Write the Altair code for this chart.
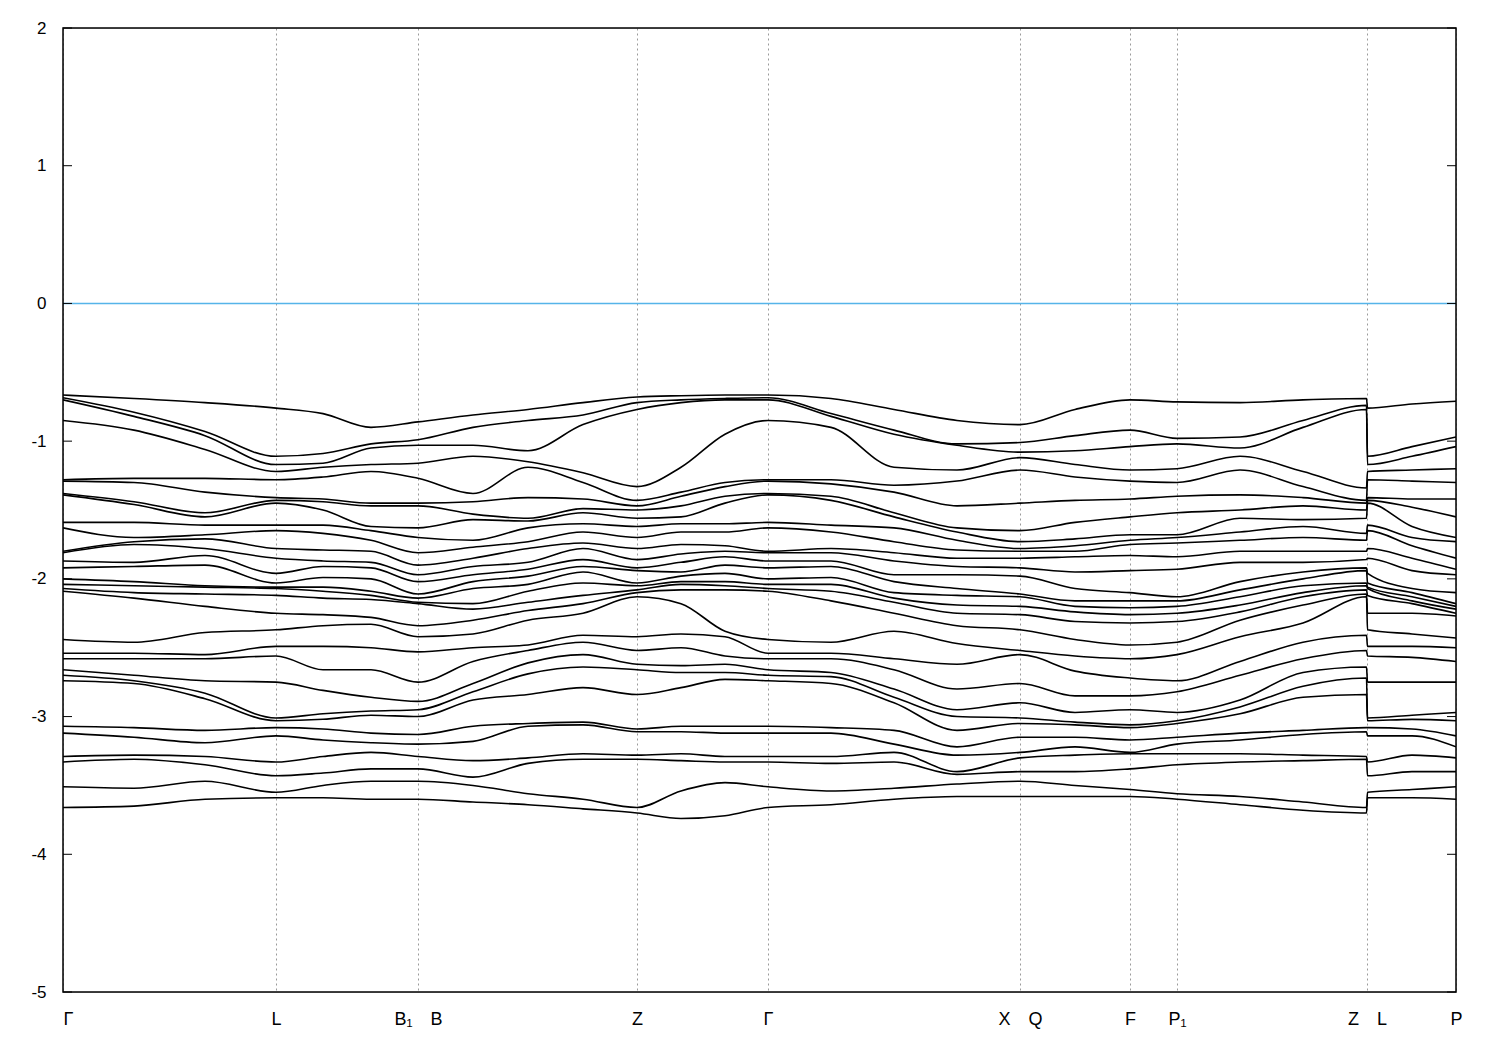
import altair as alt
import pandas as pd

# High-symmetry points (path coordinate) and their labels
tick_pos = [0, 213, 355, 574, 705, 957, 1067, 1114, 1304, 1393]
tick_labels = ["Γ", "L", "B₁\u2003B", "Z", "Γ", "X\u2003Q", "F", "P₁", "Z\u2003L", "P"]
y_ticks = [-5, -4, -3, -2, -1, 0, 1, 2]
fermi = [0.0]

# k-path sample positions
k_path = [0, 71, 142, 213, 260, 308, 355, 410, 465, 520, 574, 618, 662, 705,
          768, 831, 894, 957, 1012, 1067, 1114, 1177, 1240, 1303.5, 1304.5, 1349, 1393]

# Band energies (eV) read at each k sample, top to bottom
e00 = [-0.665,-0.685,-0.70,-0.85,-1.28,-1.29,-1.38,-1.39,-1.59,-1.63,-1.80,-1.81,-1.87,-1.92,-2.00,-2.04,-2.07,-2.09,-2.44,-2.54,-2.58,-2.66,-2.70,-2.74,-3.07,-3.12,-3.29,-3.33,-3.51,-3.66]
e01 = [-0.69,-0.79,-0.82,-0.92,-1.27,-1.30,-1.44,-1.46,-1.59,-1.70,-1.73,-1.75,-1.88,-1.91,-2.02,-2.05,-2.10,-2.14,-2.46,-2.54,-2.58,-2.70,-2.74,-2.76,-3.08,-3.15,-3.28,-3.31,-3.52,-3.65]
e02 = [-0.72,-0.93,-0.96,-1.06,-1.27,-1.37,-1.52,-1.55,-1.61,-1.68,-1.71,-1.78,-1.83,-1.90,-2.05,-2.06,-2.11,-2.20,-2.39,-2.55,-2.58,-2.74,-2.83,-2.87,-3.10,-3.19,-3.29,-3.35,-3.47,-3.60]
e03 = [-0.76,-1.11,-1.17,-1.22,-1.28,-1.41,-1.43,-1.45,-1.61,-1.65,-1.78,-1.85,-1.96,-2.03,-2.06,-2.07,-2.12,-2.25,-2.37,-2.49,-2.56,-2.75,-3.01,-3.03,-3.08,-3.14,-3.33,-3.43,-3.55,-3.59]
e04 = [-0.80,-1.09,-1.16,-1.19,-1.26,-1.42,-1.44,-1.50,-1.61,-1.67,-1.79,-1.87,-1.91,-1.99,-2.06,-2.09,-2.14,-2.26,-2.34,-2.49,-2.66,-2.81,-2.98,-3.02,-3.09,-3.17,-3.29,-3.41,-3.50,-3.59]
e05 = [-0.90,-1.02,-1.05,-1.17,-1.22,-1.45,-1.47,-1.62,-1.65,-1.72,-1.80,-1.88,-1.92,-2.00,-2.09,-2.12,-2.15,-2.28,-2.33,-2.50,-2.66,-2.86,-2.96,-2.99,-3.12,-3.19,-3.26,-3.38,-3.47,-3.60]
e06 = [-0.86,-0.99,-1.03,-1.16,-1.27,-1.45,-1.47,-1.63,-1.70,-1.81,-1.90,-1.97,-2.02,-2.11,-2.14,-2.17,-2.18,-2.34,-2.42,-2.53,-2.75,-2.89,-2.95,-3.00,-3.13,-3.20,-3.29,-3.38,-3.47,-3.60]
e07 = [-0.81,-0.90,-1.03,-1.11,-1.38,-1.44,-1.53,-1.57,-1.72,-1.77,-1.85,-1.91,-1.97,-2.02,-2.07,-2.18,-2.22,-2.30,-2.40,-2.50,-2.60,-2.76,-2.82,-2.88,-3.07,-3.18,-3.32,-3.44,-3.50,-3.62]
e08 = [-0.77,-0.85,-1.07,-1.15,-1.19,-1.41,-1.56,-1.58,-1.63,-1.73,-1.78,-1.88,-1.93,-1.98,-2.04,-2.09,-2.17,-2.23,-2.30,-2.48,-2.52,-2.61,-2.69,-2.84,-3.05,-3.07,-3.30,-3.34,-3.56,-3.64]
e09 = [-0.72,-0.81,-0.88,-1.23,-1.30,-1.42,-1.49,-1.52,-1.60,-1.66,-1.74,-1.78,-1.86,-1.91,-1.95,-2.03,-2.12,-2.18,-2.25,-2.41,-2.46,-2.55,-2.64,-2.79,-3.04,-3.06,-3.27,-3.31,-3.60,-3.67]
e10 = [-0.68,-0.72,-0.77,-1.33,-1.43,-1.47,-1.50,-1.56,-1.62,-1.70,-1.78,-1.86,-1.92,-1.94,-2.03,-2.05,-2.08,-2.10,-2.13,-2.42,-2.52,-2.62,-2.66,-2.84,-3.09,-3.11,-3.28,-3.31,-3.66,-3.70]
e11 = [-0.67,-0.70,-0.72,-1.19,-1.37,-1.40,-1.47,-1.55,-1.60,-1.66,-1.75,-1.82,-1.88,-1.95,-1.98,-2.02,-2.04,-2.08,-2.18,-2.40,-2.50,-2.63,-2.68,-2.79,-3.07,-3.11,-3.27,-3.32,-3.54,-3.74]
e12 = [-0.665,-0.69,-0.70,-0.95,-1.30,-1.33,-1.40,-1.45,-1.60,-1.66,-1.76,-1.80,-1.84,-1.90,-1.96,-2.02,-2.05,-2.08,-2.38,-2.42,-2.56,-2.62,-2.68,-2.73,-3.07,-3.12,-3.29,-3.33,-3.48,-3.72]
e13 = [-0.665,-0.685,-0.70,-0.85,-1.28,-1.29,-1.38,-1.39,-1.59,-1.63,-1.80,-1.81,-1.87,-1.92,-2.00,-2.04,-2.07,-2.09,-2.44,-2.54,-2.58,-2.66,-2.70,-2.74,-3.07,-3.12,-3.29,-3.33,-3.51,-3.66]
e14 = [-0.69,-0.80,-0.82,-0.90,-1.28,-1.31,-1.40,-1.43,-1.61,-1.66,-1.78,-1.81,-1.87,-1.91,-1.99,-2.04,-2.09,-2.16,-2.46,-2.54,-2.58,-2.68,-2.71,-2.76,-3.08,-3.12,-3.29,-3.34,-3.54,-3.64]
e15 = [-0.77,-0.92,-0.95,-1.19,-1.32,-1.37,-1.52,-1.55,-1.63,-1.73,-1.81,-1.87,-1.97,-2.02,-2.10,-2.14,-2.17,-2.25,-2.38,-2.58,-2.66,-2.80,-2.86,-2.90,-3.10,-3.20,-3.26,-3.33,-3.52,-3.60]
e16 = [-0.85,-1.02,-1.03,-1.21,-1.29,-1.47,-1.63,-1.66,-1.72,-1.79,-1.85,-1.91,-1.97,-2.07,-2.12,-2.19,-2.25,-2.34,-2.47,-2.62,-2.80,-2.95,-3.00,-3.10,-3.22,-3.28,-3.40,-3.42,-3.49,-3.58]
e17 = [-0.88,-1.01,-1.08,-1.12,-1.21,-1.45,-1.65,-1.73,-1.78,-1.80,-1.85,-1.92,-1.98,-2.11,-2.13,-2.20,-2.26,-2.37,-2.52,-2.55,-2.76,-2.90,-3.01,-3.05,-3.15,-3.26,-3.30,-3.40,-3.47,-3.58]
e18 = [-0.77,-0.96,-1.07,-1.17,-1.26,-1.43,-1.59,-1.71,-1.76,-1.80,-1.84,-1.95,-2.07,-2.16,-2.20,-2.24,-2.31,-2.44,-2.56,-2.67,-2.85,-2.97,-3.04,-3.06,-3.15,-3.22,-3.28,-3.40,-3.50,-3.58]
e19 = [-0.70,-0.92,-1.04,-1.21,-1.29,-1.42,-1.55,-1.68,-1.72,-1.75,-1.83,-1.94,-2.10,-2.16,-2.21,-2.26,-2.32,-2.48,-2.58,-2.72,-2.85,-2.95,-3.06,-3.08,-3.17,-3.26,-3.27,-3.38,-3.53,-3.58]
e20 = [-0.715,-0.98,-1.02,-1.20,-1.30,-1.40,-1.52,-1.68,-1.70,-1.74,-1.84,-1.93,-2.13,-2.16,-2.20,-2.25,-2.31,-2.46,-2.55,-2.74,-2.82,-2.97,-3.03,-3.05,-3.15,-3.20,-3.27,-3.35,-3.56,-3.60]
e21 = [-0.72,-0.97,-1.05,-1.11,-1.21,-1.39,-1.50,-1.56,-1.66,-1.72,-1.80,-1.88,-2.02,-2.08,-2.13,-2.19,-2.24,-2.30,-2.42,-2.60,-2.70,-2.88,-2.93,-2.98,-3.12,-3.17,-3.27,-3.33,-3.58,-3.64]
e22 = [-0.70,-0.85,-0.90,-1.22,-1.33,-1.41,-1.47,-1.57,-1.62,-1.70,-1.80,-1.88,-1.95,-2.00,-2.05,-2.10,-2.13,-2.19,-2.32,-2.46,-2.58,-2.68,-2.78,-2.86,-3.10,-3.13,-3.28,-3.32,-3.62,-3.68]
e23 = [-0.69,-0.74,-0.77,-1.34,-1.43,-1.45,-1.50,-1.56,-1.67,-1.72,-1.80,-1.86,-1.92,-1.94,-2.03,-2.05,-2.08,-2.11,-2.13,-2.41,-2.52,-2.64,-2.72,-2.84,-3.08,-3.11,-3.29,-3.31,-3.66,-3.70]
e24 = [-0.76,-1.11,-1.17,-1.22,-1.28,-1.41,-1.43,-1.45,-1.61,-1.65,-1.78,-1.85,-1.96,-2.03,-2.06,-2.07,-2.12,-2.25,-2.37,-2.49,-2.56,-2.75,-3.01,-3.03,-3.08,-3.14,-3.33,-3.43,-3.55,-3.59]
e25 = [-0.73,-1.04,-1.11,-1.21,-1.29,-1.42,-1.48,-1.62,-1.70,-1.76,-1.85,-1.94,-2.07,-2.10,-2.13,-2.16,-2.18,-2.25,-2.40,-2.49,-2.57,-2.75,-2.99,-3.02,-3.09,-3.14,-3.28,-3.40,-3.53,-3.59]
e26 = [-0.71,-0.97,-1.04,-1.20,-1.30,-1.42,-1.55,-1.70,-1.73,-1.85,-1.93,-1.97,-2.10,-2.18,-2.20,-2.22,-2.25,-2.27,-2.43,-2.50,-2.60,-2.75,-2.97,-3.03,-3.14,-3.22,-3.30,-3.40,-3.51,-3.60]

columns = [e00, e01, e02, e03, e04, e05, e06, e07, e08, e09, e10, e11, e12, e13,
           e14, e15, e16, e17, e18, e19, e20, e21, e22, e23, e24, e25, e26]
n_bands = min(len(c) for c in columns)

rows = []
for k, col in zip(k_path, columns):
    vals = sorted(col, reverse=True)[:n_bands]
    for i, e in enumerate(vals):
        rows.append({"k": k, "E": e, "band": i})
bands_df = pd.DataFrame(rows)

W, H = 1393, 964

label_expr = " : ".join(
    f"datum.value == {p} ? '{l}'" for p, l in zip(tick_pos, tick_labels)
) + " : ''"

x_scale = alt.Scale(domain=[0, 1393], nice=False, zero=False)
y_scale = alt.Scale(domain=[-5, 2], nice=False, zero=False)

bands = alt.Chart(bands_df).mark_line(
    color="black", strokeWidth=1.6, interpolate="monotone", clip=True
).encode(
    x=alt.X("k:Q", scale=x_scale,
            axis=alt.Axis(values=tick_pos, labelExpr=label_expr, title=None,
                          grid=True, gridDash=[2, 3], gridColor="#9a9a9a", gridWidth=1,
                          ticks=False, domain=False, labelFontSize=18,
                          labelFont="Liberation Sans", labelColor="black",
                          labelPadding=18, labelOverlap=False, labelFlush=False,
                          labelAlign={"condition": {"test": "datum.value == 0", "value": "left"},
                                      "value": "center"})),
    y=alt.Y("E:Q", scale=y_scale,
            axis=alt.Axis(values=y_ticks, labelExpr="'' + datum.value", title=None,
                          grid=False, ticks=False, domain=False, labelFontSize=17,
                          labelFont="Liberation Sans", labelColor="black",
                          labelPadding=17)),
    detail="band:N",
)

fermi_line = alt.Chart(pd.DataFrame({"E": fermi})).mark_rule(
    color="#56b4e9", strokeWidth=1.5
).encode(y=alt.Y("E:Q", scale=y_scale))

ticks_df = pd.DataFrame({"E": y_ticks})
left_ticks = alt.Chart(ticks_df).mark_rule(color="black", strokeWidth=1).encode(
    y=alt.Y("E:Q", scale=y_scale), x=alt.value(0), x2=alt.value(9))
right_ticks = alt.Chart(ticks_df).mark_rule(color="black", strokeWidth=1).encode(
    y=alt.Y("E:Q", scale=y_scale), x=alt.value(W - 9), x2=alt.value(W))

frame = alt.Chart(pd.DataFrame({"f": [0]})).mark_rect(
    fillOpacity=0, stroke="black", strokeWidth=1.5
).encode(x=alt.value(0), x2=alt.value(W), y=alt.value(0), y2=alt.value(H))

chart = alt.layer(fermi_line, bands, left_ticks, right_ticks, frame).properties(
    width=W, height=H,
    autosize=alt.AutoSizeParams(type="none"),
    padding={"left": 55, "top": 20, "right": 30, "bottom": 50},
).configure_view(
    stroke="black", strokeWidth=1.5
).configure(background="white")

chart.save("out.html", embed_options={"renderer": "svg", "actions": False})
